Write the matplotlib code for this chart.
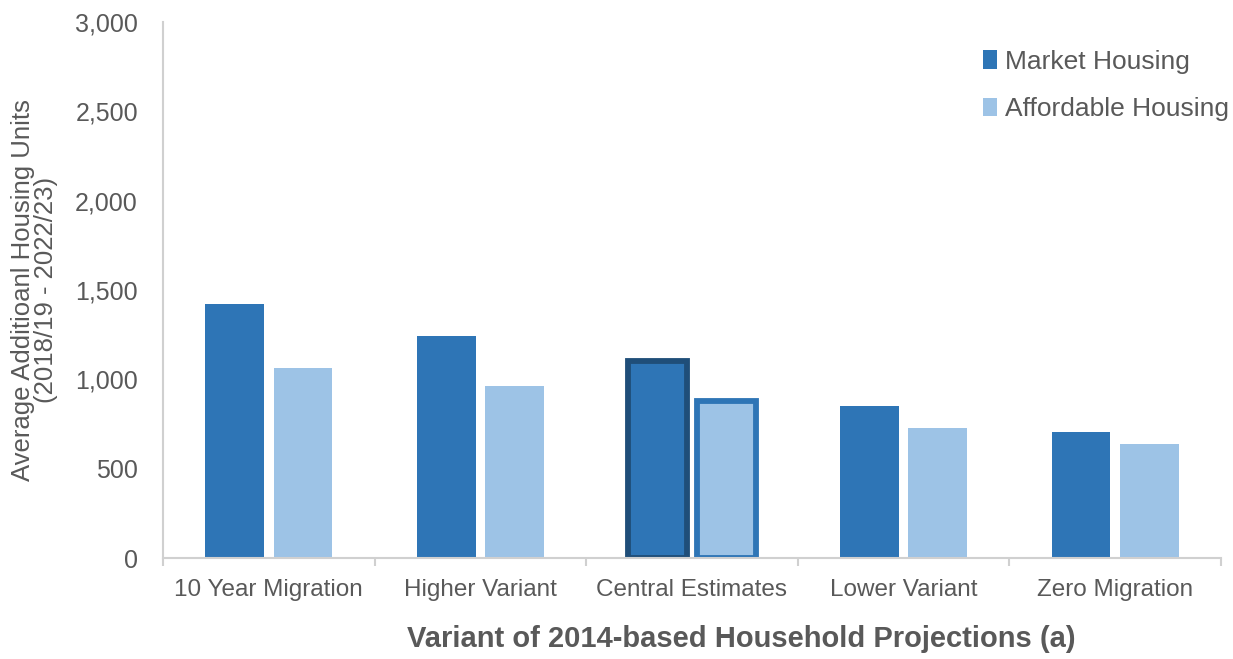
import numpy as np
import matplotlib
matplotlib.use('Agg')
from matplotlib import pyplot as plt

plt.rcParams['font.family'] = ['Liberation Sans', 'DejaVu Sans']

categories = ['10 Year Migration', 'Higher Variant', 'Central Estimates', 'Lower Variant', 'Zero Migration']
market = [1420, 1243, 1103, 851, 705]
affordable = [1063, 963, 879, 728, 638]
highlight = 2  # Central Estimates

c_market = '#2E75B6'
c_afford = '#9DC3E6'
c_text = '#595959'
c_axis = '#D0D0D0'

fig = plt.figure(figsize=(12.33, 6.59), dpi=100)
ax = fig.add_axes([163 / 1233, 1 - 558 / 659, (1221 - 163) / 1233, (558 - 22) / 659])

x = np.arange(len(categories))
w = 0.278
off = 0.162
b1 = ax.bar(x - off, market, w, color=c_market, label='Market Housing', zorder=2)
b2 = ax.bar(x + off, affordable, w, color=c_afford, label='Affordable Housing', zorder=2)
b1[highlight].set_edgecolor('#1F4E79')
b1[highlight].set_linewidth(4.2)
b2[highlight].set_edgecolor(c_market)
b2[highlight].set_linewidth(4.2)

ax.set_xlim(-0.5, len(categories) - 0.5)
ax.set_ylim(0, 3000)
ax.set_yticks(np.arange(0, 3001, 500))
ax.set_yticklabels(['{:,}'.format(v) for v in range(0, 3001, 500)])
ax.set_xticks(x)
ax.set_xticklabels(categories)
ax.set_xticks(np.arange(-0.5, len(categories), 1), minor=True)

for s in ['top', 'right']:
    ax.spines[s].set_visible(False)
for s in ['left', 'bottom']:
    ax.spines[s].set_color(c_axis)
    ax.spines[s].set_linewidth(1.5)

ax.tick_params(axis='x', which='major', length=0, pad=15, labelsize=17.5, labelcolor=c_text)
ax.tick_params(axis='x', which='minor', length=6, width=1.5, color=c_axis)
ax.tick_params(axis='y', length=0, pad=18, labelsize=18, labelcolor=c_text)

ax.set_ylabel('Average Additioanl Housing Units\n(2018/19 - 2022/23)', fontsize=18.5,
              color=c_text, labelpad=12, linespacing=0.95)
ax.set_xlabel('Variant of 2014-based Household Projections (a)', fontsize=21,
              fontweight='bold', color=c_text)
ax.xaxis.set_label_coords(0.547, -0.125)

leg = ax.legend(loc='upper right', bbox_to_anchor=(1.03, 0.993), frameon=False, fontsize=19,
                handlelength=0.55, handleheight=0.7, handletextpad=0.3, labelspacing=0.9)
for t in leg.get_texts():
    t.set_color(c_text)

fig.savefig('out.png', dpi=100)
